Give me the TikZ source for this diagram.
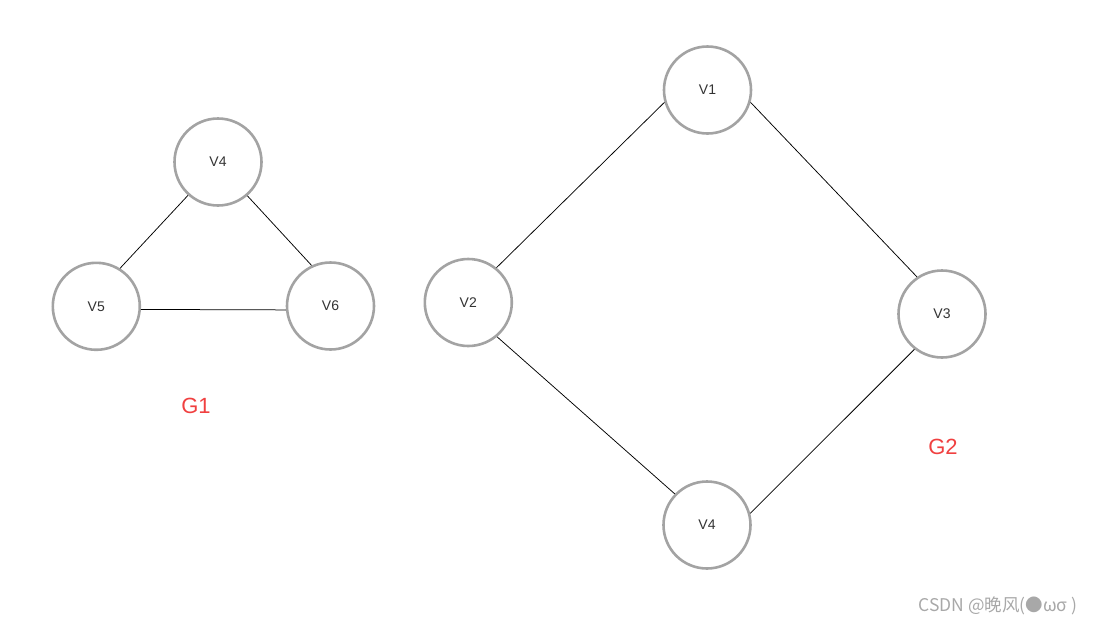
\documentclass[tikz,border=0pt]{standalone}
\usepackage{fontspec}
\setmainfont{Liberation Sans}
\newfontfamily\cjk{Noto Sans CJK SC}
\definecolor{ringgray}{HTML}{A3A3A3}
\definecolor{glabel}{HTML}{F04040}
\definecolor{markgray}{HTML}{A8A8A8}
\definecolor{vtext}{HTML}{333333}
\tikzset{
  vert/.style={circle, draw=ringgray, line width=2.6pt, fill=white, text=vtext,
               minimum size=87pt, inner sep=0pt, font=\fontsize{14}{16}\selectfont},
  edge/.style={draw=black, line width=0.75pt},
  glabelnode/.style={text=glabel, font=\fontsize{22}{25}\selectfont},
}

\begin{document}
\begin{tikzpicture}[x=1pt, y=-1pt]
    \useasboundingbox (0,0) rectangle (1095,627);
    % G1
    \node[vert] (g1v4) at (218,162) {V4};
    \node[vert] (g1v5) at (96.3,306.3) {V5};
    \node[vert] (g1v6) at (330.5,306) {V6};
    \draw[edge] (g1v4.228) -- (g1v5.58);
    \draw[edge] (g1v4.311) -- (g1v6.115);
    \draw[edge] (g1v5.-4.7) -- (g1v6.185);
    \node[glabelnode] (g1name) at (196,406) {G1};
    % G2
    \node[vert] (g2v1) at (707.5,90) {V1};
    \node[vert] (g2v2) at (468.3,302.5) {V2};
    \node[vert] (g2v3) at (942,314) {V3};
    \node[vert] (g2v4) at (707,525) {V4};
    \draw[edge] (g2v1.196) -- (g2v2.51);
    \draw[edge] (g2v1.-16) -- (g2v3.124);
    \draw[edge] (g2v2.-50) -- (g2v4.136);
    \draw[edge] (g2v3.232) -- (g2v4.15.6);
    \node[glabelnode] (g2name) at (943,447) {G2};
    % watermark
    \node[text=markgray, font=\cjk\fontsize{17.5}{19}\selectfont, anchor=east] (mark) at (1081,606) {CSDN @晚风(●ωσ )};
\end{tikzpicture}
\end{document}
